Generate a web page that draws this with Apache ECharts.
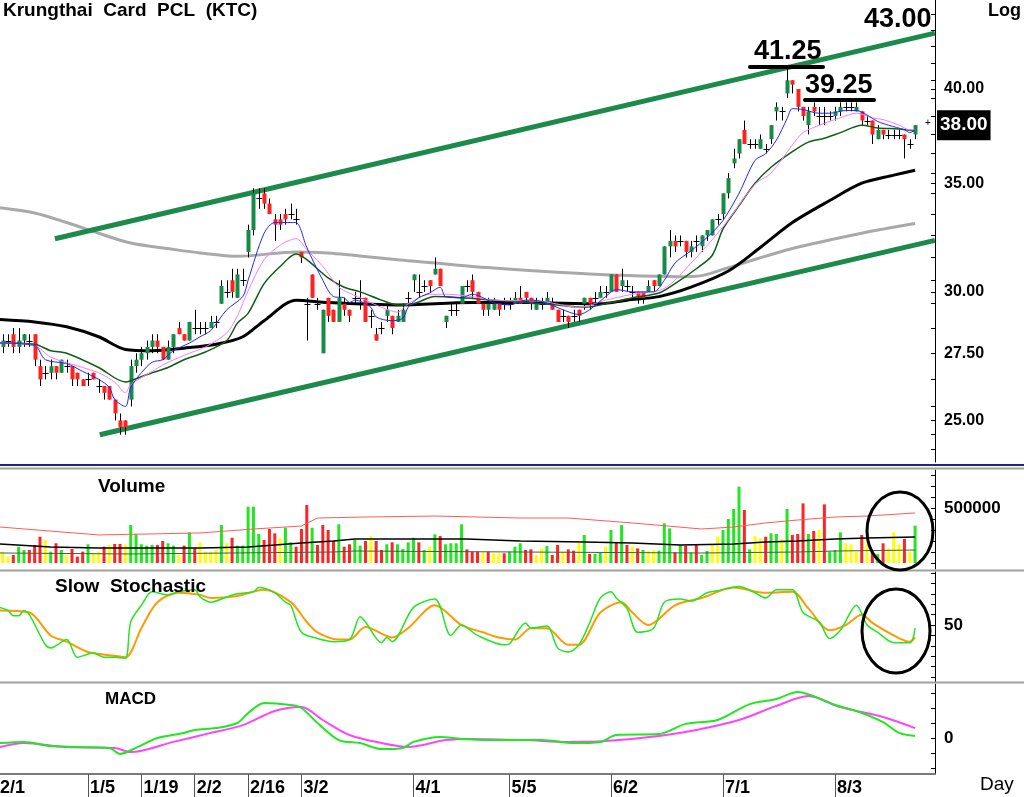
<!DOCTYPE html>
<html>
<head>
<meta charset="utf-8">
<title>KTC</title>
<script src="https://cdn.jsdelivr.net/npm/echarts@6.0.0/dist/echarts.min.js"></script>
<style>
  html, body { margin: 0; padding: 0; background: #fff; }
  #chart { width: 1024px; height: 797px; }
</style>
</head>
<body>
<div id="chart"></div>
<script>
// Krungthai Card PCL (KTC), daily. Day index 0 = 12/1, first visible candle = day 4
const firstDay = 4;

// open, close, low, high
const candles = [
  [27.75, 28.0, 27.5, 28.25], [28.0, 28.0, 27.75, 28.25], [28.25, 27.75, 27.5, 28.5], [27.75, 28.0, 27.5, 28.5],
  [28.0, 28.25, 27.75, 28.25], [28.0, 28.0, 27.75, 28.25], [28.25, 27.25, 27.0, 28.25], [27.0, 26.5, 26.25, 27.25],
  [26.75, 26.75, 26.5, 27.0], [26.75, 27.0, 26.5, 27.25], [27.0, 26.75, 26.5, 27.0], [26.75, 27.25, 26.75, 27.25],
  [27.0, 27.0, 26.75, 27.25], [27.0, 26.5, 26.25, 27.0], [26.75, 26.5, 26.25, 26.75], [26.5, 26.25, 26.25, 26.5],
  [26.5, 26.5, 26.25, 26.75], [26.75, 26.5, 26.5, 26.75], [26.25, 26.25, 26.0, 26.5], [26.25, 26.0, 25.75, 26.25],
  [26.25, 25.75, 25.75, 26.25], [25.75, 25.25, 25.0, 25.75], [25.0, 24.75, 24.5, 25.25], [25.0, 24.75, 24.5, 25.0],
  [25.75, 27.0, 25.5, 27.25], [27.0, 27.25, 26.75, 27.5], [27.25, 27.5, 27.0, 27.75], [27.5, 27.75, 27.25, 28.0],
  [27.75, 28.0, 27.5, 28.25], [28.0, 27.75, 27.5, 28.25], [27.75, 27.25, 27.25, 27.75], [27.25, 27.75, 27.25, 28.0],
  [27.75, 28.25, 27.5, 28.25], [28.5, 28.25, 28.25, 28.75], [28.25, 28.0, 28.0, 28.25], [28.0, 28.75, 28.0, 28.75],
  [28.5, 28.5, 28.25, 29.25], [28.5, 28.5, 28.25, 28.75], [28.5, 28.5, 28.25, 28.75], [28.5, 28.75, 28.5, 29.0],
  [28.75, 28.75, 28.5, 29.0], [29.5, 30.25, 29.5, 30.5], [30.0, 30.0, 29.75, 30.5], [30.5, 30.0, 29.75, 31.0],
  [29.75, 30.75, 29.75, 31.0], [30.5, 30.5, 30.25, 31.0], [31.75, 32.75, 31.5, 33.0], [32.75, 34.5, 32.5, 34.75],
  [34.25, 34.25, 33.75, 34.75], [34.5, 34.0, 33.75, 34.75], [34.0, 33.5, 33.5, 34.25], [33.25, 33.0, 32.25, 33.5],
  [33.25, 33.0, 32.75, 33.5], [33.5, 33.25, 33.0, 33.75], [33.5, 33.5, 33.25, 34.0], [33.25, 33.25, 33.0, 33.75],
  [31.75, 31.5, 31.25, 31.75], [29.5, 29.5, 28.0, 29.75], [30.75, 29.75, 29.75, 30.75], [29.5, 29.5, 29.25, 29.75],
  [27.5, 29.25, 27.5, 29.25], [29.75, 29.0, 28.75, 29.75], [29.25, 28.75, 28.75, 29.25], [28.75, 29.75, 28.75, 30.5],
  [29.5, 29.25, 29.0, 29.75], [29.25, 29.0, 28.75, 29.25], [29.75, 29.75, 29.5, 30.0], [29.75, 29.75, 29.25, 30.5],
  [29.75, 28.75, 28.75, 29.75], [29.0, 29.0, 28.5, 29.25], [28.25, 28.0, 28.0, 28.5], [28.5, 28.5, 28.25, 28.75],
  [29.0, 29.25, 28.75, 29.5], [29.0, 28.5, 28.25, 29.0], [28.75, 29.0, 28.75, 29.25], [28.75, 29.25, 28.75, 29.5],
  [29.75, 29.75, 29.5, 30.0], [30.5, 30.75, 30.0, 30.75], [30.0, 30.0, 29.75, 30.75], [30.25, 30.25, 30.0, 30.5],
  [30.5, 30.25, 30.0, 30.5], [30.75, 31.0, 30.75, 31.5], [31.0, 30.25, 30.25, 31.0], [28.75, 29.0, 28.5, 29.0],
  [29.25, 29.25, 29.0, 29.5], [29.25, 29.25, 29.0, 29.5], [29.5, 30.25, 29.5, 30.25], [30.25, 30.25, 30.0, 30.5],
  [30.5, 30.0, 29.75, 30.75], [30.0, 29.5, 29.5, 30.0], [29.5, 29.25, 29.0, 29.5], [29.25, 29.5, 29.0, 29.75],
  [29.25, 29.5, 29.25, 29.75], [29.5, 29.25, 29.0, 29.5], [29.5, 29.5, 29.25, 29.75], [29.5, 29.5, 29.25, 29.75],
  [29.5, 29.75, 29.5, 30.0], [29.75, 29.5, 29.5, 30.25], [30.0, 29.75, 29.5, 30.0], [29.75, 29.5, 29.25, 29.75],
  [29.25, 29.5, 29.25, 29.75], [29.5, 29.5, 29.25, 29.75], [29.5, 29.75, 29.5, 30.0], [29.5, 29.25, 29.25, 29.75],
  [29.25, 28.75, 28.75, 29.25], [29.0, 29.0, 28.75, 29.25], [29.0, 28.75, 28.5, 29.0], [29.0, 29.0, 28.75, 29.25],
  [29.25, 29.0, 28.75, 29.25], [29.5, 29.75, 29.25, 29.75], [29.75, 29.5, 29.25, 29.75], [29.75, 29.75, 29.5, 30.0],
  [29.75, 30.0, 29.75, 30.25], [30.0, 30.0, 29.75, 30.25], [30.0, 30.75, 30.0, 30.75], [30.75, 30.0, 30.0, 30.75],
  [30.25, 30.5, 30.0, 31.0], [30.25, 30.25, 30.0, 30.5], [30.0, 30.0, 29.75, 30.25], [30.0, 29.75, 29.5, 30.0],
  [30.0, 29.75, 29.5, 30.0], [30.0, 30.25, 30.0, 30.5], [30.5, 30.25, 30.0, 30.5], [30.25, 30.75, 30.25, 30.75],
  [30.75, 32.0, 30.75, 32.0], [32.0, 32.25, 31.5, 32.75], [32.25, 32.0, 31.75, 32.5], [32.25, 32.25, 32.0, 32.5],
  [32.25, 31.75, 31.5, 32.25], [31.75, 32.0, 31.5, 32.25], [32.25, 32.25, 31.75, 32.5], [32.0, 32.5, 31.75, 32.5],
  [32.5, 32.75, 32.25, 32.75], [32.5, 33.25, 32.5, 33.25], [33.25, 33.25, 33.0, 33.5], [33.5, 34.5, 33.25, 34.5],
  [34.5, 35.25, 34.25, 35.5], [36.0, 36.25, 35.75, 36.75], [36.5, 37.25, 36.25, 37.25], [37.75, 37.0, 37.0, 38.25],
  [37.0, 37.0, 36.75, 37.25], [37.0, 37.0, 36.75, 37.25], [36.75, 37.25, 36.75, 37.5], [36.75, 36.75, 36.5, 37.0],
  [37.25, 38.0, 37.0, 38.0], [38.75, 39.0, 38.25, 39.25], [38.75, 38.75, 38.25, 39.0], [39.75, 40.5, 39.5, 41.25],
  [40.5, 40.25, 39.75, 40.5], [40.0, 39.0, 38.75, 40.0], [39.0, 38.5, 38.25, 39.0], [38.0, 38.75, 37.5, 39.0],
  [39.0, 38.75, 38.5, 39.25], [38.5, 38.5, 38.0, 39.0], [38.5, 38.5, 38.0, 39.0], [38.5, 38.5, 38.25, 38.75],
  [38.5, 38.75, 38.25, 39.0], [38.75, 39.0, 38.5, 39.25], [39.0, 39.0, 38.75, 39.25], [39.0, 39.0, 38.75, 39.25],
  [38.75, 39.0, 38.75, 39.25], [38.75, 38.25, 38.0, 38.75], [38.25, 38.25, 38.0, 38.5], [38.25, 37.5, 37.0, 38.25],
  [37.25, 37.75, 37.25, 38.0], [37.75, 37.5, 37.25, 37.75], [37.5, 37.5, 37.25, 37.75], [37.5, 37.5, 37.25, 37.75],
  [37.5, 37.5, 37.25, 37.75], [37.5, 37.25, 36.25, 37.5], [37.0, 37.0, 36.75, 37.25], [37.5, 38.0, 37.25, 38.0]
];

const volumes = [
  103000, 58000, 73000, 148000, 118000, 118000, 164000, 239000, 209000, 103000,
  179000, 118000, 73000, 127000, 58000, 103000, 170000, 88000, 103000, 148000,
  164000, 173000, 173000, 170000, 345000, 261000, 170000, 158000, 164000, 164000,
  200000, 179000, 158000, 73000, 158000, 279000, 133000, 185000, 103000, 103000,
  118000, 345000, 179000, 230000, 158000, 158000, 512000, 512000, 264000, 209000,
  309000, 270000, 224000, 321000, 188000, 148000, 309000, 527000, 321000, 164000,
  345000, 300000, 200000, 352000, 148000, 170000, 209000, 158000, 200000, 245000,
  200000, 118000, 170000, 188000, 170000, 127000, 188000, 230000, 188000, 118000,
  148000, 261000, 245000, 170000, 179000, 179000, 352000, 124000, 103000, 103000,
  97000, 103000, 88000, 88000, 88000, 103000, 148000, 179000, 118000, 124000,
  73000, 133000, 155000, 73000, 164000, 103000, 124000, 112000, 188000, 255000,
  82000, 82000, 94000, 148000, 300000, 188000, 345000, 164000, 148000, 133000,
  118000, 109000, 118000, 112000, 361000, 315000, 97000, 164000, 158000, 97000,
  164000, 73000, 109000, 164000, 239000, 300000, 400000, 491000, 694000, 482000,
  124000, 245000, 224000, 239000, 270000, 264000, 218000, 491000, 255000, 264000,
  542000, 264000, 291000, 300000, 533000, 103000, 118000, 279000, 179000, 170000,
  103000, 255000, 224000, 103000, 80000, 179000, 133000, 279000, 170000, 218000, 103000, 339000
];
// g = close up, r = close down, y = unchanged
const volMove =
  'yyrggrrryg' + 'rgyrrrgyyr' + 'yrrygggggr' + 'rggyrgryyy' + 'ygyrgggggr' + 'rryggrrrgr' +
  'rrrgrrggry' + 'rrgrggggrg' + 'ygrggggrrr' + 'yryyrgggrr' + 'yygrryrryg' + 'rggygrgryr' +
  'gyygggrgrg' + 'rggyyggggr' + 'gyyrggygrr' + 'rgryrgggyy' + 'yryrgryyyryg';

// moving averages on price, [day, price]
const maBlue = [[3.5,27.9],[10,27.8],[12,27.25],[16,27.1],[19,26.8],[22,26.5],[24,26.2],[25,25.75],[27,25.5],[28,26.2],
  [30,26.75],[32,27.15],[34,27.25],[36,27.6],[39,27.9],[41,28.15],[43,28.4],[46,29.25],[49,29.8],[50,30.5],[53,32.6],
  [55,33.1],[58,33.1],[59,33.1],[61,31.95],[64,30.5],[66,29.8],[68,29.75],[69,29.55],[70,29.65],[73,29.35],[74,28.95],
  [77,28.8],[79,28.9],[80,29.35],[82,29.75],[84,29.95],[86,30.2],[87,29.8],[90,29.75],[92,29.9],[96,29.55],[99,29.45],
  [102,29.65],[105,29.6],[109,29.25],[112,29.05],[114,29.25],[117,29.8],[119,30.1],[122,30.0],[126,30.0],[128,30.5],
  [130,31.25],[133,31.8],[136,32.4],[139,33.2],[142,34.5],[145,36.15],[147,36.5],[149,37.2],[151,38.35],[152,38.9],
  [154,38.85],[157,38.65],[159,38.65],[162,38.8],[164,38.8],[166,38.55],[168,38.2],[170,38.0],[173,37.75],[174,37.6],[175,37.75]];
const maPink = [[3.5,27.9],[10,27.8],[13,27.35],[19,26.95],[22,26.75],[25,26.4],[27,26.0],[28,26.3],[32,26.8],[35,27.15],
  [39,27.5],[42,27.75],[46,28.3],[48,29.0],[50,30.05],[53,31.4],[56,32.05],[59,32.35],[61,31.85],[64,31.1],[67,30.2],
  [69,29.95],[72,29.65],[75,29.35],[78,29.15],[80,29.5],[84,29.9],[87,29.9],[92,29.8],[96,29.65],[105,29.6],[112,29.35],
  [117,29.65],[122,29.9],[128,30.15],[133,31.25],[139,32.9],[145,34.95],[148,35.5],[152,36.95],[154,37.6],[158,38.1],
  [161,38.4],[164,38.65],[167,38.4],[169,38.3],[172,38.0],[174,37.75],[175,37.75]];
const maGreen = [[3.5,27.9],[10,27.85],[13,27.6],[16,27.5],[22,26.95],[27,26.4],[28,26.45],[32,26.75],[35,26.95],[38,27.25],
  [42,27.55],[46,28.0],[48,28.7],[50,29.1],[53,30.35],[56,31.1],[59,31.65],[61,31.4],[65,30.6],[68,30.2],[71,30.0],
  [75,29.65],[78,29.45],[81,29.5],[85,29.8],[90,29.75],[96,29.65],[102,29.55],[108,29.45],[113,29.35],[118,29.55],
  [122,29.75],[127,29.95],[130,30.35],[134,31.0],[137,31.6],[139,32.8],[142,33.9],[145,35.0],[148,35.8],[152,36.6],
  [155,37.1],[158,37.3],[161,37.6],[165,38.0],[168,37.85],[172,37.8],[175,37.7]];
const maBlack = [[3.5,28.85],[10,28.75],[16,28.55],[22,28.15],[27,27.65],[32,27.6],[38,27.7],[44,27.85],[49,28.15],
  [53,28.8],[59,29.65],[65,29.55],[78,29.45],[92,29.55],[102,29.55],[116,29.5],[121,29.65],[127,29.8],[133,30.2],
  [140,30.9],[146,31.95],[152,33.1],[159,34.15],[165,35.0],[171,35.4],[175,35.65]];
const maGrey = [[3.5,33.8],[10,33.55],[16,33.1],[22,32.6],[28,32.15],[35,31.9],[41,31.7],[48,31.55],[59,31.75],[65,31.7],
  [78,31.4],[92,31.1],[108,30.85],[121,30.7],[131,30.65],[135,30.7],[140,31.05],[152,31.9],[165,32.6],[175,33.05]];

// channel lines drawn on the chart, [day, price]
const trendUpper = [[13.8, 32.35], [178.7, 43.3]];
const trendLower = [[22.2, 24.5], [178.7, 32.27]];

// volume averages
const volAvgRed = [[3.5,327000],[22,255000],[41,273000],[51,309000],[60,336000],[63,409000],[72,418000],[85,427000],
  [101,409000],[110,409000],[122,364000],[135,309000],[141,327000],[147,364000],[153,391000],[160,418000],[166,427000],[175,455000]];
const volAvgBlack = [[3.5,173000],[13,145000],[22,136000],[41,136000],[50,145000],[60,182000],[66,200000],[70,218000],
  [91,218000],[101,200000],[113,191000],[122,182000],[131,164000],[141,173000],[147,191000],[153,200000],[160,218000],
  [166,227000],[175,236000]];
const volAvgGreen = [[3.5,91000],[28,82000],[66,100000],[70,109000],[101,100000],[135,91000],[153,100000],[160,109000],[175,118000]];

// slow stochastic
const stochK = [[3.5,67],[5,64],[6,59],[7,59],[8,64],[9,60],[12,31],[13,28],[16,36],[18,19],[21,23],[23,19],[25,19],[27,18],
  [28,53],[30,69],[32,82],[35,79],[37,82],[40,84],[41,77],[43,72],[46,77],[48,80],[51,82],[52,86],[55,81],[57,72],[58,69],
  [60,43],[63,37],[66,34],[69,36],[71,58],[72,53],[75,33],[76,38],[77,34],[81,67],[85,75],[88,40],[90,50],[93,40],[98,31],
  [99,32],[102,52],[103,47],[106,49],[108,28],[110,24],[112,31],[114,52],[116,76],[118,82],[119,76],[121,66],[123,43],
  [126,47],[128,72],[131,75],[133,73],[136,81],[138,83],[142,87],[145,81],[147,76],[149,84],[152,84],[154,62],[157,53],
  [159,37],[161,45],[164,69],[166,50],[168,43],[171,33],[174,33],[175,47]];
const stochD = [[3.5,64],[9,62],[13,40],[16,34],[20,24],[24,21],[27,19],[30,47],[33,72],[37,81],[41,79],[43,76],[48,78],
  [53,84],[58,72],[61,53],[63,43],[67,36],[69,36],[72,48],[77,38],[80,47],[85,69],[90,50],[94,43],[97,38],[100,36],
  [103,47],[106,47],[110,31],[112,31],[116,62],[120,72],[122,62],[125,50],[130,69],[135,76],[141,86],[147,81],[152,82],
  [155,66],[159,45],[162,50],[165,60],[167,52],[171,40],[174,34],[175,38]];

// MACD
const macdLine = [[3.5,-0.17],[8,-0.13],[13,-0.27],[18,-0.3],[24,-0.33],[26,-0.53],[29,-0.33],[33,0],[38,0.17],[40,0.27],
  [44,0.33],[48,0.5],[50,0.83],[53,1.17],[58,1.1],[60,1.0],[63,0.5],[67,-0.07],[71,-0.17],[75,-0.37],[79,-0.33],[81,-0.13],
  [86,0.03],[90,-0.03],[97,-0.07],[105,-0.07],[111,-0.17],[116,-0.13],[119,0.1],[127,0.13],[132,0.47],[138,0.6],[144,1.13],
  [149,1.3],[153,1.53],[160,1.1],[164,0.9],[169,0.53],[172,0.17],[175,0.07]];
const macdSignal = [[3.5,-0.3],[8,-0.17],[16,-0.3],[25,-0.33],[28,-0.47],[36,-0.13],[43,0.17],[49,0.43],[55,0.9],[60,1.03],
  [64,0.6],[69,0.1],[75,-0.17],[80,-0.3],[87,-0.07],[92,-0.03],[102,-0.07],[110,-0.13],[117,-0.1],[127,0.07],[134,0.27],
  [142,0.6],[149,1.07],[155,1.4],[161,1.03],[169,0.7],[175,0.33]];

// axis ticks and labels
const dateTicks = [20, 30, 40, 50, 60, 81, 99, 118, 139, 160];
const dateLabels = ['1/5', '1/19', '2/2', '2/16', '3/2', '4/1', '5/5', '6/2', '7/1', '8/3'];
const priceLabels = [25, 27.5, 30, 35, 40];
const priceTickMarks = [24, 24.5, 25, 25.5, 26.5, 27.5, 28.5, 29.5, 30, 30.5, 31.5, 32.5, 33.5, 34.5, 35, 35.5,
  36.5, 37.5, 38.5, 39.5, 40, 40.5, 41.5, 42.5, 43.5, 44.5];
const volLabels = [500000];
const volTickMarks = [0, 100000, 200000, 300000, 400000, 500000, 600000, 700000, 800000];
const stochLabels = [50];
const stochTickMarks = [0, 10, 20, 30, 40, 50, 60, 70, 80, 90, 100];
const macdLabels = [0];
const macdTickMarks = [-1, -0.5, 0, 0.5, 1, 1.5];

const FONT = "'Liberation Sans', Arial, sans-serif";
const X_MIN = 3.505, X_MAX = 178.73;

const candleData = candles.map((c, k) => [firstDay + k, c[0], c[1], c[2], c[3]]);
const volumeData = volumes.map((v, k) => [firstDay + k, v]);
const lastClose = candles[candles.length - 1][1];
const volColours = { g: '#22e622', r: '#ff2424', y: '#ffff00' };

function renderCandle(params, api) {
  const day = api.value(0);
  const open = api.value(1), close = api.value(2), low = api.value(3), high = api.value(4);
  const pHigh = api.coord([day, high]);
  const pLow = api.coord([day, low]);
  const pOpen = api.coord([day, open]);
  const pClose = api.coord([day, close]);
  const x = Math.round(pHigh[0]) + 0.5;
  const children = [{
    type: 'line',
    shape: { x1: x, y1: pHigh[1], x2: x, y2: pLow[1] },
    style: { stroke: '#000', lineWidth: 1 }
  }];
  if (open === close) {
    children.push({
      type: 'line',
      shape: { x1: x - 3, y1: Math.round(pOpen[1]) + 0.5, x2: x + 3, y2: Math.round(pOpen[1]) + 0.5 },
      style: { stroke: '#000', lineWidth: 1 }
    });
  } else {
    const top = Math.min(pOpen[1], pClose[1]);
    const h = Math.max(Math.abs(pOpen[1] - pClose[1]), 1.5);
    children.push({
      type: 'rect',
      shape: { x: x - 2, y: top, width: 4, height: h },
      style: { fill: close > open ? '#178a47' : '#ff2020' }
    });
  }
  return { type: 'group', children: children };
}

function lineSeries(data, grid, color, width, z, extra) {
  return Object.assign({
    type: 'line', xAxisIndex: grid, yAxisIndex: grid, data: data,
    showSymbol: false, smooth: 0.3, silent: true, z: z,
    lineStyle: { color: color, width: width }
  }, extra || {});
}

function sideAxis(grid, opts) {
  return Object.assign({
    gridIndex: grid, position: 'right',
    axisLine: { show: true, lineStyle: { color: '#000', width: 1 } },
    axisTick: { show: true, inside: true, length: 4, lineStyle: { color: '#000' } },
    splitLine: { show: false }
  }, opts);
}

const labelFont = { fontWeight: 'bold', fontSize: 17, color: '#000', fontFamily: FONT, margin: 9 };

const chart = echarts.init(document.getElementById('chart'));
chart.setOption({
  animation: false,
  backgroundColor: '#fff',
  grid: [
    { left: 0, top: 0, width: 935, height: 462 },
    { left: 0, top: 470, width: 935, height: 99 },
    { left: 0, top: 572, width: 935, height: 110 },
    { left: 0, top: 684, width: 935, height: 90 }
  ],
  xAxis: [0, 1, 2].map(g => ({ type: 'value', gridIndex: g, min: X_MIN, max: X_MAX, show: false })).concat([{
    type: 'value', gridIndex: 3, min: X_MIN, max: X_MAX,
    axisLine: { show: true, onZero: false, lineStyle: { color: '#7a7a7a', width: 2 } },
    axisTick: { show: true, customValues: dateTicks, length: 24, inside: false, lineStyle: { color: '#555', width: 1 } },
    axisLabel: {
      customValues: dateTicks,
      formatter: v => dateLabels[dateTicks.indexOf(v)],
      align: 'left', margin: 5, padding: [0, 0, 0, 2],
      fontWeight: 'bold', fontSize: 18, color: '#000', fontFamily: FONT
    },
    splitLine: { show: false }
  }]),
  yAxis: [
    sideAxis(0, {
      type: 'log', logBase: 10, min: 23.57, max: 45.38,
      axisTick: { show: true, inside: true, length: 4, customValues: priceTickMarks, lineStyle: { color: '#000' } },
      axisLabel: Object.assign({ customValues: priceLabels, formatter: v => Number(v).toFixed(2) }, labelFont, { fontSize: 16 })
    }),
    sideAxis(1, {
      type: 'value', min: -54545, max: 845455,
      axisTick: { show: true, inside: true, length: 4, customValues: volTickMarks, lineStyle: { color: '#000' } },
      axisLabel: Object.assign({ customValues: volLabels, formatter: v => String(v) }, labelFont)
    }),
    sideAxis(2, {
      type: 'value', min: -4.8, max: 101,
      axisTick: { show: true, inside: true, length: 4, customValues: stochTickMarks, lineStyle: { color: '#000' } },
      axisLabel: Object.assign({ customValues: stochLabels }, labelFont)
    }),
    sideAxis(3, {
      type: 'value', min: -1.2, max: 1.8,
      axisTick: { show: true, inside: true, length: 4, customValues: macdTickMarks, lineStyle: { color: '#000' } },
      axisLabel: Object.assign({ customValues: macdLabels }, labelFont)
    })
  ],
  series: [
    lineSeries(maGrey, 0, '#a9a9a9', 3, 1),
    lineSeries(maBlack, 0, '#000', 3, 1),
    lineSeries(trendUpper, 0, '#1b8a4b', 5, 2, { smooth: false }),
    lineSeries(trendLower, 0, '#1b8a4b', 5, 2, { smooth: false }),
    {
      type: 'custom', xAxisIndex: 0, yAxisIndex: 0, z: 3, silent: true, clip: true,
      renderItem: renderCandle,
      encode: { x: 0, y: [1, 2, 3, 4] },
      data: candleData
    },
    lineSeries(maGreen, 0, '#0d5e12', 1.5, 4),
    lineSeries(maPink, 0, '#ff78ff', 1, 4),
    lineSeries(maBlue, 0, '#2424ff', 1, 4, {
      clip: false,
      markLine: {
        silent: true, symbol: 'none', animation: false,
        lineStyle: { color: 'rgba(0,0,0,0)', width: 1, type: 'solid' },
        label: {
          show: true, position: 'end', distance: 2, formatter: lastClose.toFixed(2),
          color: '#fff', backgroundColor: '#000', fontWeight: 'bold', fontSize: 19,
          fontFamily: FONT, padding: [6, 3, 5, 3]
        },
        data: [{ yAxis: lastClose }]
      }
    }),
    {
      type: 'bar', xAxisIndex: 1, yAxisIndex: 1, data: volumeData, barWidth: 3, silent: true,
      itemStyle: { color: p => volColours[volMove[p.dataIndex]] }
    },
    lineSeries(volAvgRed, 1, '#ff5a5a', 1, 3, { smooth: false }),
    lineSeries(volAvgBlack, 1, '#000', 1.5, 3, { smooth: false }),
    lineSeries(volAvgGreen, 1, '#3f5f3f', 1, 3, { smooth: false }),
    lineSeries(stochD, 2, '#ff9a00', 2, 3),
    lineSeries(stochK, 2, '#22e622', 1.5, 4),
    lineSeries(macdSignal, 3, '#ff44ff', 2, 3),
    lineSeries(macdLine, 3, '#22e622', 2, 4)
  ],
  graphic: [
    { type: 'line', z: 50, shape: { x1: 0, y1: 465, x2: 1024, y2: 465 }, style: { stroke: '#23238c', lineWidth: 2 } },
    { type: 'line', z: 50, shape: { x1: 0, y1: 468.5, x2: 1024, y2: 468.5 }, style: { stroke: '#a0a0a0', lineWidth: 2 } },
    { type: 'line', z: 50, shape: { x1: 0, y1: 570.5, x2: 1024, y2: 570.5 }, style: { stroke: '#a0a0a0', lineWidth: 2 } },
    { type: 'line', z: 50, shape: { x1: 0, y1: 682.5, x2: 1024, y2: 682.5 }, style: { stroke: '#a0a0a0', lineWidth: 2 } },
    { type: 'text', z: 50, style: { x: 3, y: 1, text: 'Krungthai  Card  PCL  (KTC)', font: 'bold 19px ' + FONT, fill: '#000' } },
    { type: 'text', z: 50, style: { x: 988, y: 2, text: 'Log', font: 'bold 18px ' + FONT, fill: '#000' } },
    { type: 'text', z: 50, style: { x: 980, y: 775, text: 'Day', font: '19px ' + FONT, fill: '#000' } },
    { type: 'text', z: 50, style: { x: -10, y: 779, text: '12/1', font: 'bold 18px ' + FONT, fill: '#000' } },
    { type: 'text', z: 50, style: { x: 98, y: 477, text: 'Volume', font: 'bold 19px ' + FONT, fill: '#000' } },
    { type: 'text', z: 50, style: { x: 55, y: 577, text: 'Slow  Stochastic', font: 'bold 19px ' + FONT, fill: '#000' } },
    { type: 'text', z: 50, style: { x: 105, y: 691, text: 'MACD', font: 'bold 17px ' + FONT, fill: '#000' } },
    { type: 'text', z: 50, style: { x: 754, y: 38, text: '41.25', font: 'bold 27px ' + FONT, fill: '#000' } },
    { type: 'line', z: 50, shape: { x1: 750, y1: 67, x2: 823, y2: 67 }, style: { stroke: '#000', lineWidth: 4, lineCap: 'round' } },
    { type: 'text', z: 50, style: { x: 805, y: 72, text: '39.25', font: 'bold 27px ' + FONT, fill: '#000' } },
    { type: 'line', z: 50, shape: { x1: 805, y1: 100, x2: 874, y2: 100 }, style: { stroke: '#000', lineWidth: 4, lineCap: 'round' } },
    { type: 'text', z: 50, style: { x: 864, y: 6, text: '43.00', font: 'bold 27px ' + FONT, fill: '#000' } },
    { type: 'text', z: 50, style: { x: 925, y: 118, text: '+', font: '10px ' + FONT, fill: '#000' } },
    { type: 'ellipse', z: 50, shape: { cx: 900, cy: 531, rx: 33, ry: 39 }, style: { fill: 'rgba(0,0,0,0)', stroke: '#000', lineWidth: 3 } },
    { type: 'ellipse', z: 50, shape: { cx: 896, cy: 631, rx: 34, ry: 42 }, style: { fill: 'rgba(0,0,0,0)', stroke: '#000', lineWidth: 3 } }
  ]
});
</script>
</body>
</html>
